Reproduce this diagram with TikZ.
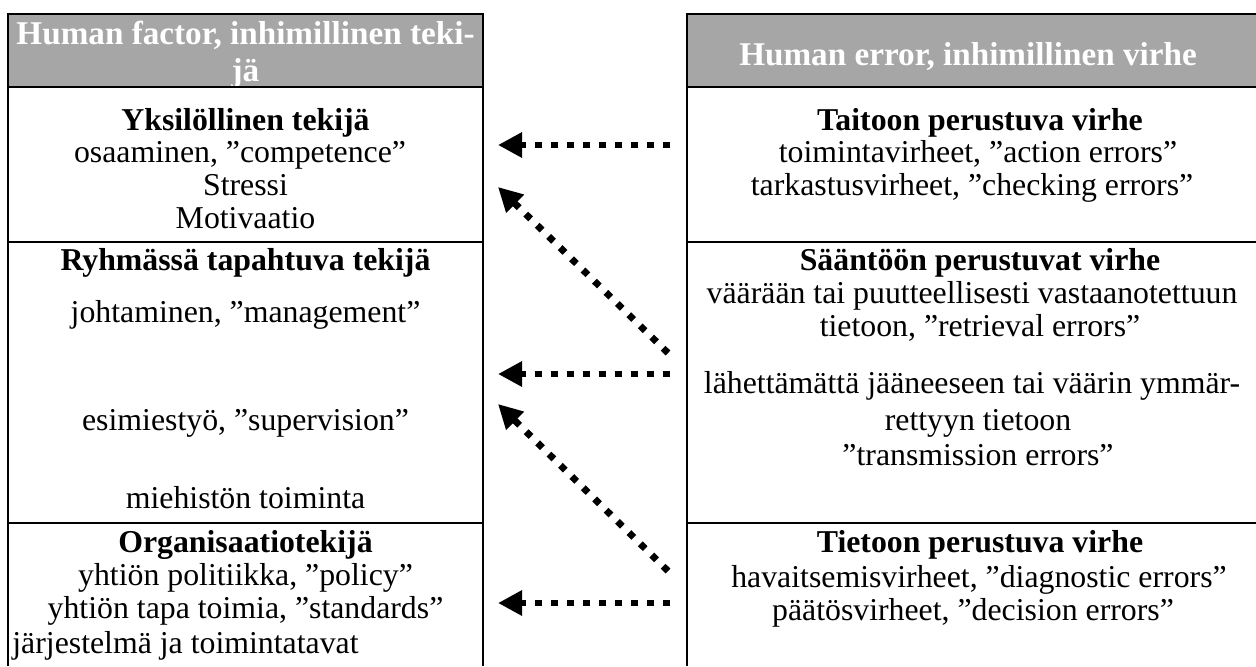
\documentclass[tikz,border=0pt]{standalone}
\usepackage{fontspec}
\setmainfont{Liberation Serif}
\usetikzlibrary{arrows.meta}
\definecolor{hdrgray}{HTML}{A6A6A6}
\begin{document}
\begin{tikzpicture}[x=0.5pt,y=-0.5pt,
  body/.style={font=\fontsize{15.9pt}{17pt}\selectfont, inner sep=0pt, anchor=base},
  bhead/.style={body, font=\fontsize{15.9pt}{17pt}\selectfont\bfseries},
  hdrtxt/.style={inner sep=0pt, anchor=base, text=white, font=\fontsize{16.6pt}{18pt}\selectfont\bfseries},
  grid/.style={line width=1pt},
  flow/.style={line width=3.4pt, dash pattern=on 3.4pt off 4.6pt, -{Triangle[length=12pt,width=12pt]}}
]
\useasboundingbox (0,0) rectangle (1256,666);
% header fills
\fill[hdrgray] (8,14) rectangle (483,87);
\fill[hdrgray] (687,14) rectangle (1256,87);
% header texts
\node[hdrtxt] (lh1) at (245.5,44) {Human factor, inhimillinen teki-};
\node[hdrtxt] (lh2) at (245.5,81) {jä};
\node[hdrtxt] (rh1) at (968,65) {Human error, inhimillinen virhe};
% left column
\node[bhead] (l1) at (245.5,130) {Yksilöllinen tekijä};
\node[body] (l1a) at (240,162) {osaaminen, ”competence”};
\node[body] (l1b) at (245.5,195) {Stressi};
\node[body] (l1c) at (245.5,228) {Motivaatio};
\node[bhead] (l2) at (245.5,270) {Ryhmässä tapahtuva tekijä};
\node[body] (l2a) at (245.5,322) {johtaminen, ”management”};
\node[body] (l2b) at (245.5,430) {esimiestyö, ”supervision”};
\node[body] (l2c) at (245.5,508) {miehistön toiminta};
\node[bhead] (l3) at (245.5,552) {Organisaatiotekijä};
\node[body] (l3a) at (245.5,585) {yhtiön politiikka, ”policy”};
\node[body] (l3b) at (245.5,618) {yhtiön tapa toimia, ”standards”};
\node[body, anchor=base west] (l3c) at (12,653) {järjestelmä ja toimintatavat};
% right column
\node[bhead] (r1) at (980,130) {Taitoon perustuva virhe};
\node[body] (r1a) at (978,162) {toimintavirheet, ”action errors”};
\node[body] (r1b) at (972,195) {tarkastusvirheet, ”checking errors”};
\node[bhead] (r2) at (980,270) {Sääntöön perustuvat virhe};
\node[body] (r2a) at (972,303) {väärään tai puutteellisesti vastaanotettuun};
\node[body] (r2b) at (980,336) {tietoon, ”retrieval errors”};
\node[body] (r2c) at (972,393) {lähettämättä jääneeseen tai väärin ymmär-};
\node[body] (r2d) at (978,430) {rettyyn tietoon};
\node[body] (r2e) at (978,465) {”transmission errors”};
\node[bhead] (r3) at (980,552) {Tietoon perustuva virhe};
\node[body] (r3a) at (979,587) {havaitsemisvirheet, ”diagnostic errors”};
\node[body] (r3b) at (973,620) {päätösvirheet, ”decision errors”};
% grid lines
\draw[grid] (8,666) -- (8,14) -- (483,14) -- (483,666);
\draw[grid] (8,87) -- (483,87);
\draw[grid] (8,242) -- (483,242);
\draw[grid] (8,523) -- (483,523);
\draw[grid] (1256,14) -- (687,14) -- (687,666);
\draw[grid] (687,87) -- (1256,87);
\draw[grid] (687,242) -- (1256,242);
\draw[grid] (687,523) -- (1256,523);
% arrow endpoints
\coordinate (h1s) at (670,145);
\coordinate (h1e) at (498,145);
\coordinate (d1s) at (668,353);
\coordinate (d1e) at (498,187);
\coordinate (h2s) at (670,374);
\coordinate (h2e) at (498,374);
\coordinate (d2s) at (668,571);
\coordinate (d2e) at (498,404);
\coordinate (h3s) at (670,603);
\coordinate (h3e) at (498,603);
\draw[flow] (h1s) -- (h1e);
\draw[flow] (d1s) -- (d1e);
\draw[flow] (h2s) -- (h2e);
\draw[flow] (d2s) -- (d2e);
\draw[flow] (h3s) -- (h3e);
\end{tikzpicture}
\end{document}
